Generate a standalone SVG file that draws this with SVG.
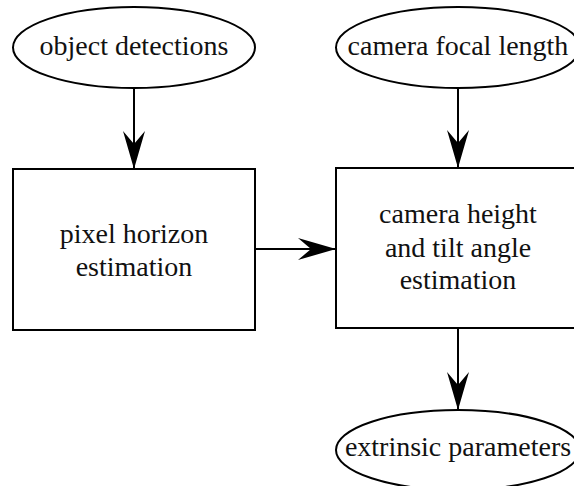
<svg xmlns="http://www.w3.org/2000/svg" width="574" height="486" viewBox="0 0 574 486">
<style>
.shape{fill:#fff;stroke:#000;stroke-width:2}
.lbl{font-family:'Liberation Serif',serif !important;font-size:28px;fill:#111;text-anchor:middle}
.conn{stroke:#000;stroke-width:2;fill:none}
</style>
<defs>
<marker id="ah" markerUnits="userSpaceOnUse" viewBox="-40 -12 42 24" markerWidth="42" markerHeight="24" refX="0" refY="0" orient="auto">
<path d="M0,0 L-38,-11 L-25,0 L-38,11 Z" fill="#000"/>
</marker>
</defs>
<rect width="574" height="486" fill="#fff"/>
<g id="connectors">
<line class="conn" x1="134" y1="88" x2="134" y2="169" marker-end="url(#ah)"/>
<line class="conn" x1="458" y1="88" x2="458" y2="168" marker-end="url(#ah)"/>
<line class="conn" x1="255" y1="249" x2="336" y2="249" marker-end="url(#ah)"/>
<line class="conn" x1="458" y1="328" x2="458" y2="410" marker-end="url(#ah)"/>
</g>
<g id="object-detections">
<ellipse class="shape" cx="134" cy="47.5" rx="121" ry="40.5"/>
<text class="lbl" x="134" y="55">object detections</text>
</g>
<g id="camera-focal-length">
<ellipse class="shape" cx="458" cy="47.5" rx="122" ry="40.5"/>
<text class="lbl" x="458" y="55">camera focal length</text>
</g>
<g id="pixel-horizon-estimation">
<rect class="shape" x="13" y="169" width="242" height="161"/>
<text class="lbl" x="134" y="243">pixel horizon</text>
<text class="lbl" x="134" y="276">estimation</text>
</g>
<g id="camera-height-estimation">
<rect class="shape" x="336" y="168" width="244" height="160"/>
<text class="lbl" x="458" y="223">camera height</text>
<text class="lbl" x="458" y="257">and tilt angle</text>
<text class="lbl" x="458" y="289">estimation</text>
</g>
<g id="extrinsic-parameters">
<ellipse class="shape" cx="458" cy="450" rx="122" ry="40"/>
<text class="lbl" x="458" y="456">extrinsic parameters</text>
</g>
</svg>
